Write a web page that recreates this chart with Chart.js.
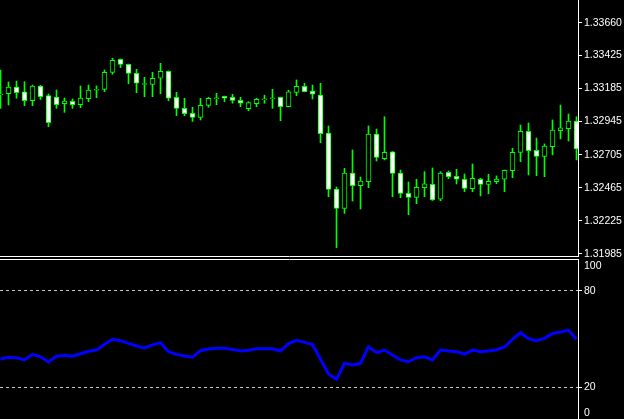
<!DOCTYPE html>
<html>
<head>
<meta charset="utf-8">
<script src="https://cdn.jsdelivr.net/npm/chart.js@4.4.1/dist/chart.umd.min.js"></script>
<style>
  html, body { margin: 0; padding: 0; background: #000; }
  body { width: 624px; height: 419px; position: relative; overflow: hidden; }
  .panel { position: absolute; left: 0; width: 624px; }
  #pricePanel { top: 0; height: 262px; }
  #rsiPanel { top: 259px; height: 160px; }
</style>
</head>
<body>
<div class="panel" id="pricePanel"><canvas id="priceChart"></canvas></div>
<div class="panel" id="rsiPanel"><canvas id="rsiChart"></canvas></div>
<script>
// candles, oldest first
const open = [1.33138, 1.33147, 1.33196, 1.33160, 1.33096, 1.33203, 1.33133, 1.33123, 1.33075, 1.33092,
  1.33067, 1.33111, 1.33172, 1.33179, 1.33302, 1.33397, 1.33360, 1.33295, 1.33214, 1.33215,
  1.33259, 1.33310, 1.33121, 1.33041, 1.33004, 1.32976, 1.33063, 1.33111, 1.33128, 1.33121,
  1.33099, 1.33038, 1.33075, 1.33103, 1.33111, 1.33121, 1.33053, 1.33157, 1.33201, 1.33167,
  1.33138, 1.32862, 1.32456, 1.32316, 1.32572, 1.32480, 1.32509, 1.32855, 1.32676, 1.32725,
  1.32572, 1.32425, 1.32396, 1.32466, 1.32490, 1.32382, 1.32577, 1.32548, 1.32527, 1.32458,
  1.32527, 1.32490, 1.32509, 1.32527, 1.32589, 1.32722, 1.32875, 1.32737, 1.32693, 1.32763,
  1.32879, 1.32893, 1.32949];
const high = [1.33319, 1.33232, 1.33239, 1.33234, 1.33210, 1.33207, 1.33145, 1.33174, 1.33116, 1.33109,
  1.33203, 1.33210, 1.33203, 1.33319, 1.33404, 1.33399, 1.33362, 1.33324, 1.33266, 1.33302,
  1.33368, 1.33312, 1.33157, 1.33114, 1.33049, 1.33114, 1.33121, 1.33150, 1.33130, 1.33143,
  1.33121, 1.33089, 1.33114, 1.33136, 1.33179, 1.33123, 1.33172, 1.33247, 1.33223, 1.33210,
  1.33223, 1.32913, 1.32471, 1.32606, 1.32739, 1.32543, 1.32913, 1.32891, 1.32980, 1.32728,
  1.32594, 1.32507, 1.32527, 1.32582, 1.32609, 1.32582, 1.32587, 1.32599, 1.32565, 1.32638,
  1.32534, 1.32563, 1.32551, 1.32594, 1.32751, 1.32920, 1.32935, 1.32826, 1.32783, 1.32957,
  1.33065, 1.33000, 1.32980];
const low = [1.33041, 1.33065, 1.33114, 1.33060, 1.33060, 1.33105, 1.32908, 1.33041, 1.33012, 1.33041,
  1.33046, 1.33089, 1.33118, 1.33162, 1.33288, 1.33336, 1.33220, 1.33154, 1.33125, 1.33125,
  1.33147, 1.33096, 1.32988, 1.32988, 1.32946, 1.32957, 1.33049, 1.33067, 1.33089, 1.33078,
  1.33053, 1.33024, 1.33053, 1.33078, 1.33041, 1.32951, 1.33051, 1.33133, 1.33160, 1.33109,
  1.32792, 1.32400, 1.32031, 1.32280, 1.32369, 1.32311, 1.32466, 1.32659, 1.32667, 1.32400,
  1.32393, 1.32270, 1.32350, 1.32400, 1.32373, 1.32371, 1.32531, 1.32493, 1.32437, 1.32437,
  1.32406, 1.32422, 1.32495, 1.32437, 1.32538, 1.32654, 1.32558, 1.32553, 1.32545, 1.32703,
  1.32819, 1.32804, 1.32667];
const close = [1.33145, 1.33196, 1.33154, 1.33096, 1.33203, 1.33125, 1.32937, 1.33067, 1.33094, 1.33067,
  1.33116, 1.33174, 1.33179, 1.33302, 1.33389, 1.33360, 1.33295, 1.33223, 1.33221, 1.33259,
  1.33310, 1.33114, 1.33041, 1.33002, 1.32975, 1.33063, 1.33114, 1.33118, 1.33114, 1.33099,
  1.33078, 1.33082, 1.33107, 1.33110, 1.33118, 1.33053, 1.33160, 1.33201, 1.33162, 1.33143,
  1.32857, 1.32454, 1.32316, 1.32572, 1.32480, 1.32514, 1.32855, 1.32686, 1.32722, 1.32570,
  1.32425, 1.32396, 1.32469, 1.32493, 1.32377, 1.32572, 1.32545, 1.32527, 1.32461, 1.32534,
  1.32489, 1.32512, 1.32529, 1.32592, 1.32722, 1.32875, 1.32734, 1.32693, 1.32768, 1.32884,
  1.32899, 1.32949, 1.32746];

// oscillator in the lower window
const rsi = [37.5, 38.6, 38.3, 36.9, 40.4, 38.9, 35.6, 39.2, 39.8, 39.2,
  40.8, 42.3, 43.1, 46.7, 49.8, 48.9, 47.3, 45.6, 44.4, 46.3,
  47.7, 42.1, 40.4, 39.4, 38.6, 42.7, 43.7, 44.2, 44.2, 43.5,
  42.5, 42.9, 43.9, 43.9, 43.9, 42.5, 47.1, 49.2, 47.9, 46.5,
  37.3, 28.1, 24.8, 34.8, 33.8, 34.8, 45.2, 41.5, 43.1, 40.0,
  36.9, 35.8, 38.3, 38.9, 36.9, 43.1, 42.5, 42.1, 40.6, 43.1,
  42.1, 42.5, 43.3, 45.0, 49.8, 53.9, 50.2, 48.9, 50.4, 53.5,
  54.4, 55.4, 49.8];

const priceTicks = [1.31985, 1.32225, 1.32465, 1.32705, 1.32945, 1.33185, 1.33425, 1.33660];
const priceMin = 1.319705;
const priceMax = 1.338265;
const rsiLevels = [20, 80];
const rsiTicks = [0, 20, 80, 100];

const LIME = '#00ff00';
const AXIS_FONT = { family: 'Liberation Sans, Arial, sans-serif', size: 10.5 };
const xMin = -0.0625;
const xMax = close.length - 1 + 0.1875;

const bodies = open.map((o, i) => ({ x: i, y: [o, close[i]] }));
const wicks = low.map((l, i) => ({ x: i, y: [l, high[i]] }));
const bodyFill = open.map((o, i) => close[i] >= o ? '#000000' : '#ffffff');

const common = {
  responsive: true,
  maintainAspectRatio: false,
  animation: false,
  events: [],
  layout: { padding: 0 },
  plugins: { legend: { display: false }, tooltip: { enabled: false } }
};

new Chart(document.getElementById('priceChart'), {
  type: 'bar',
  data: {
    datasets: [
      {
        data: wicks,
        backgroundColor: LIME,
        borderWidth: 0,
        barThickness: 1,
        grouped: false,
        order: 2
      },
      {
        data: bodies,
        backgroundColor: bodyFill,
        borderColor: LIME,
        borderWidth: 1,
        borderSkipped: false,
        barThickness: 5,
        grouped: false,
        order: 1
      }
    ]
  },
  options: {
    ...common,
    scales: {
      x: {
        type: 'linear',
        offset: false,
        min: xMin,
        max: xMax,
        ticks: { display: false },
        grid: { display: false, offset: false },
        border: { display: true, color: '#ffffff' },
        afterFit: s => { s.height = 6; s.paddingLeft = 0; s.paddingRight = 0; }
      },
      y: {
        type: 'linear',
        position: 'right',
        min: priceMin,
        max: priceMax,
        afterBuildTicks: s => { s.ticks = priceTicks.map(v => ({ value: v })); },
        afterFit: s => { s.width = 46; s.paddingTop = 0; s.paddingBottom = 0; },
        ticks: {
          color: '#ffffff',
          font: AXIS_FONT,
          padding: 2,
          callback: v => Number(v).toFixed(5)
        },
        grid: { drawOnChartArea: false, tickLength: 4, tickColor: '#ffffff' },
        border: { display: true, color: '#ffffff' }
      }
    }
  }
});

new Chart(document.getElementById('rsiChart'), {
  type: 'line',
  data: {
    datasets: [{
      data: rsi.map((v, i) => ({ x: i, y: v })),
      borderColor: '#0000ff',
      borderWidth: 3,
      pointRadius: 0,
      tension: 0,
      fill: false
    }]
  },
  options: {
    ...common,
    scales: {
      x: {
        type: 'linear',
        position: 'top',
        min: xMin,
        max: xMax,
        ticks: { display: false },
        grid: { display: false },
        border: { display: true, color: '#ffffff' },
        afterFit: s => { s.height = 0; s.paddingLeft = 0; s.paddingRight = 0; }
      },
      y: {
        type: 'linear',
        position: 'right',
        min: 0,
        max: 100,
        // MT4 keeps the 0 and 100 labels inside the window
        afterBuildTicks: s => {
          s.ticks = rsiTicks.map(v => ({ value: v === 100 ? 95.6 : v === 0 ? 3.8 : v }));
        },
        afterFit: s => { s.width = 46; s.paddingTop = 0; s.paddingBottom = 0; },
        ticks: {
          color: '#ffffff',
          font: AXIS_FONT,
          padding: 2,
          callback: (v, i) => String(rsiTicks[i])
        },
        grid: {
          drawOnChartArea: true,
          tickLength: 4,
          color: c => rsiLevels.includes(c.tick && c.tick.value) ? '#c8c8c8' : 'transparent',
          tickColor: c => rsiLevels.includes(c.tick && c.tick.value) ? '#ffffff' : 'transparent',
          tickBorderDash: []
        },
        border: { display: true, color: '#ffffff', dash: [3, 3] }
      }
    }
  }
});
</script>
</body>
</html>
